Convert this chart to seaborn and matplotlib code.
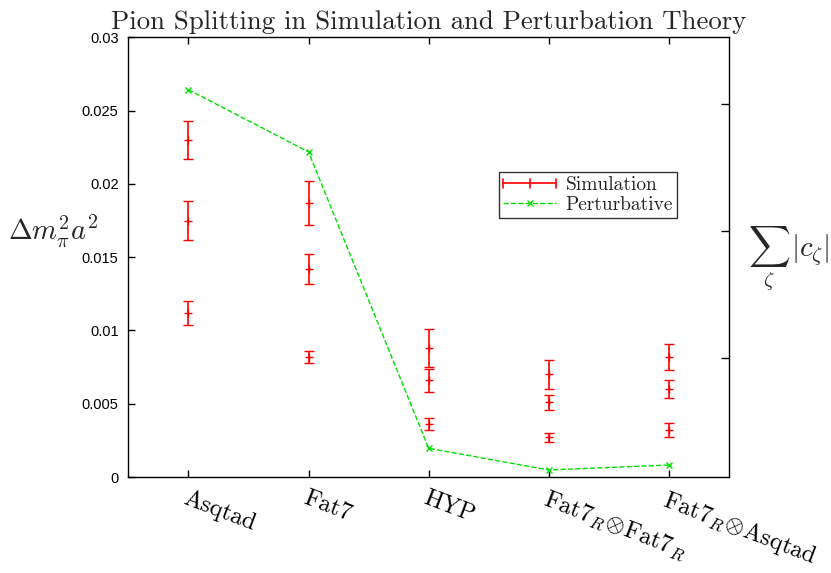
import numpy as np
import pandas as pd
import matplotlib
matplotlib.use("Agg")
import matplotlib.pyplot as plt
from matplotlib.ticker import FuncFormatter
from matplotlib.lines import Line2D
from matplotlib.legend_handler import HandlerBase
import seaborn as sns

# data
actions = ["Asqtad", "Fat7", "HYP",
           r"Fat7$_R\!\otimes\!$Fat7$_R$", r"Fat7$_R\!\otimes\!$Asqtad"]
action_pos = [1, 2, 3, 4, 5]

sim_pos = [1, 1, 1, 2, 2, 2, 3, 3, 3, 4, 4, 4, 5, 5, 5]
sim_val = [0.0230, 0.0175, 0.0112,
           0.0187, 0.0142, 0.0082,
           0.0088, 0.0066, 0.0036,
           0.0070, 0.0051, 0.0027,
           0.0082, 0.0060, 0.0032]
sim_err = [0.0013, 0.0013, 0.0008,
           0.0015, 0.0010, 0.0004,
           0.0013, 0.0008, 0.0004,
           0.0010, 0.0005, 0.0003,
           0.0009, 0.0006, 0.0005]

pert_val = [0.02643, 0.02218, 0.00196, 0.00048, 0.00082]

y_ticks = [0, 0.005, 0.01, 0.015, 0.02, 0.025, 0.03]
y2_ticks = [1, 2, 3]

sns.set_theme(style="white")
plt.rcParams["mathtext.fontset"] = "cm"
plt.rcParams["axes.unicode_minus"] = False

sim = pd.DataFrame({"action": sim_pos, "val": sim_val, "err": sim_err})
pert = pd.DataFrame({"action": action_pos, "val": pert_val})

red = "#ff0000"
green = "#00e000"


class ErrbarHandler(HandlerBase):
    # gnuplot-like key: horizontal bar with end ticks and a centre tick
    def create_artists(self, legend, orig, xd, yd, w, h, fontsize, trans):
        y = h / 2 - yd
        x0, x1 = -xd, w - xd
        t = h * 0.35
        arts = [Line2D([x0, x1], [y, y], color=red, lw=1.2)]
        for x in (x0, (x0 + x1) / 2, x1):
            arts.append(Line2D([x, x], [y - t, y + t], color=red, lw=1.2))
        for a in arts:
            a.set_transform(trans)
        return arts


fig = plt.figure(figsize=(8.31, 5.73), dpi=100)
ax = fig.add_axes([0.1544, 0.1675, 0.7229, 0.7674])

ax.errorbar(sim["action"], sim["val"], yerr=sim["err"], fmt="+", color=red,
            ecolor=red, elinewidth=1.2, capsize=3.5, capthick=1.2,
            markersize=6, markeredgewidth=1.0, zorder=3)
sns.lineplot(data=pert, x="action", y="val", ax=ax, color=green, marker="x",
             markersize=5, markeredgewidth=1.0, markeredgecolor=green,
             linestyle="--", linewidth=1.0, legend=False, zorder=2)

ax.set_xlim(0.5, 5.5)
ax.set_ylim(0, 0.03)
ax.set_xticks(action_pos)
ax.set_xticklabels(actions, fontfamily="cmr10", fontsize=17.5,
                   rotation=-21, ha="left", va="top", rotation_mode="anchor")
ax.set_yticks(y_ticks)
ax.yaxis.set_major_formatter(FuncFormatter(lambda v, p: "%g" % v))
for lab in ax.get_yticklabels():
    lab.set_fontfamily("Liberation Sans")
ax.tick_params(axis="y", direction="in", length=5, width=1, labelsize=10.5,
               left=True, right=False, pad=7, colors="black")
ax.tick_params(axis="x", direction="in", length=5, width=1, top=True,
               bottom=True, pad=7, colors="black")
ax.set_xlabel("")
ax.set_ylabel("")
for s in ax.spines.values():
    s.set_color("black")
    s.set_linewidth(1.0)

# secondary axis on the right with unlabeled ticks
ax2 = ax.twinx()
ax2.set_ylim(0.059, 3.529)
ax2.set_yticks(y2_ticks)
ax2.set_yticklabels([])
ax2.tick_params(axis="y", direction="in", length=6, width=1, right=True, colors="black")
ax2.grid(False)
for s in ax2.spines.values():
    s.set_visible(False)

ax.set_title("Pion Splitting in Simulation and Perturbation Theory",
             fontfamily="cmr10", fontsize=19.3, pad=6)

fig.text(0.010, 0.595, r"$\Delta m_\pi^2 a^2$", fontsize=20.5, ha="left", va="center")
fig.text(0.900, 0.548, r"$\sum_\zeta\, |c_\zeta|$", fontsize=21, ha="left", va="center")

sim_key = object()
pert_key = Line2D([], [], color=green, linestyle="--", lw=1.0, marker="x",
                  markersize=5, markeredgewidth=1.0)
leg = ax.legend([sim_key, pert_key], ["Simulation", "Perturbative"],
                handler_map={sim_key: ErrbarHandler()},
                loc="upper right", bbox_to_anchor=(0.913, 0.693),
                prop={"family": "cmr10", "size": 14}, frameon=True, fancybox=False,
                edgecolor="black", handlelength=2.7, borderpad=0.2,
                labelspacing=0.1, handletextpad=0.5, borderaxespad=0)
leg.get_frame().set_linewidth(1.0)
for t in leg.get_texts():
    t.set_color("#222222")

fig.savefig("out.png", dpi=100)
